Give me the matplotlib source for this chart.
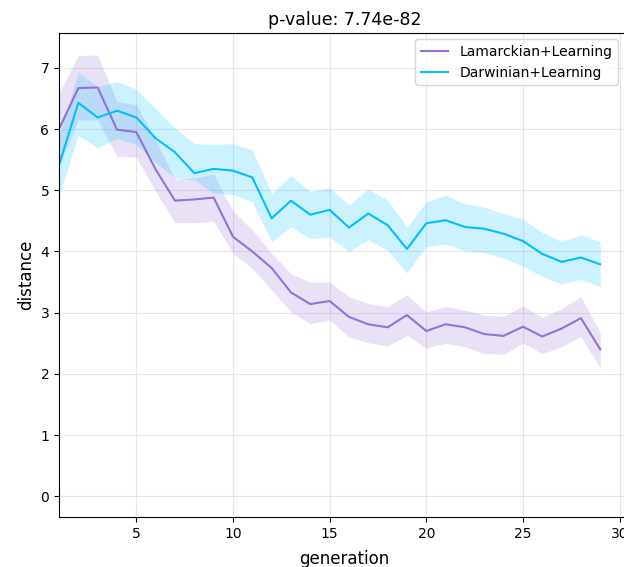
import matplotlib.pyplot as plt
import numpy as np

generation = np.arange(1, 30)

# mean distance per generation, with lower / upper bounds of the confidence band
lam_mean = [6.00, 6.67, 6.68, 5.99, 5.95, 5.34, 4.83, 4.85, 4.88, 4.24,
            4.00, 3.73, 3.33, 3.14, 3.19, 2.93, 2.81, 2.76, 2.96, 2.70,
            2.81, 2.76, 2.65, 2.62, 2.77, 2.61, 2.74, 2.91, 2.40]
lam_low = [5.40, 6.15, 6.15, 5.55, 5.54, 4.98, 4.47, 4.47, 4.49, 3.97,
           3.72, 3.37, 3.01, 2.82, 2.88, 2.60, 2.51, 2.45, 2.63, 2.42,
           2.50, 2.44, 2.33, 2.32, 2.50, 2.33, 2.44, 2.61, 2.09]
lam_high = [6.59, 7.20, 7.21, 6.45, 6.40, 5.82, 5.18, 5.20, 5.26, 4.66,
            4.35, 3.97, 3.64, 3.50, 3.50, 3.26, 3.15, 3.10, 3.29, 3.01,
            3.10, 3.04, 2.96, 2.94, 3.11, 2.92, 3.07, 3.26, 2.67]

dar_mean = [5.41, 6.43, 6.19, 6.30, 6.19, 5.85, 5.62, 5.28, 5.35, 5.32,
            5.21, 4.54, 4.83, 4.60, 4.68, 4.39, 4.62, 4.43, 4.04, 4.46,
            4.51, 4.40, 4.37, 4.29, 4.17, 3.96, 3.83, 3.90, 3.79]
dar_low = [4.91, 5.89, 5.70, 5.84, 5.75, 5.45, 5.20, 5.17, 4.95, 4.93,
           4.81, 4.16, 4.40, 4.21, 4.24, 4.00, 4.19, 4.02, 3.65, 4.08,
           4.12, 4.01, 3.98, 3.89, 3.76, 3.59, 3.47, 3.54, 3.43]
dar_high = [5.90, 6.93, 6.69, 6.78, 6.65, 6.34, 6.02, 5.76, 5.75, 5.76,
            5.66, 4.95, 5.24, 4.98, 5.04, 4.76, 5.02, 4.84, 4.40, 4.81,
            4.92, 4.78, 4.72, 4.62, 4.53, 4.31, 4.16, 4.27, 4.16]

fig = plt.figure(figsize=(6.24, 5.67), dpi=100)
# axes run a little past the right edge of the figure
ax = fig.add_axes([59 / 624, 1 - 517 / 567, 571 / 624, 484 / 567])

ax.plot(generation, lam_mean, color='#9370DB', linewidth=1.5, label='Lamarckian+Learning')
ax.fill_between(generation, lam_low, lam_high, color='#9370DB', alpha=0.2, linewidth=0)
ax.plot(generation, dar_mean, color='#00BFFF', linewidth=1.5, label='Darwinian+Learning')
ax.fill_between(generation, dar_low, dar_high, color='#00BFFF', alpha=0.2, linewidth=0)

ax.set_xlim(1, 30.54)
ax.set_ylim(-0.34, 7.57)
ax.set_xticks([5, 10, 15, 20, 25, 30])
ax.set_yticks(range(0, 8))
ax.grid(True, color='#e6e6e6', linewidth=0.8)
ax.set_axisbelow(True)
ax.tick_params(labelsize=10)

ax.set_title('p-value: 7.74e-82', fontsize=12.5)
ax.set_xlabel('generation', fontsize=12, labelpad=7)
ax.set_ylabel('distance', fontsize=12)
ax.legend(loc='upper right', fontsize=10, borderaxespad=0,
          bbox_to_anchor=(618 / 624, 1 - 39 / 567), bbox_transform=fig.transFigure)

fig.savefig('out.png', dpi=100)
